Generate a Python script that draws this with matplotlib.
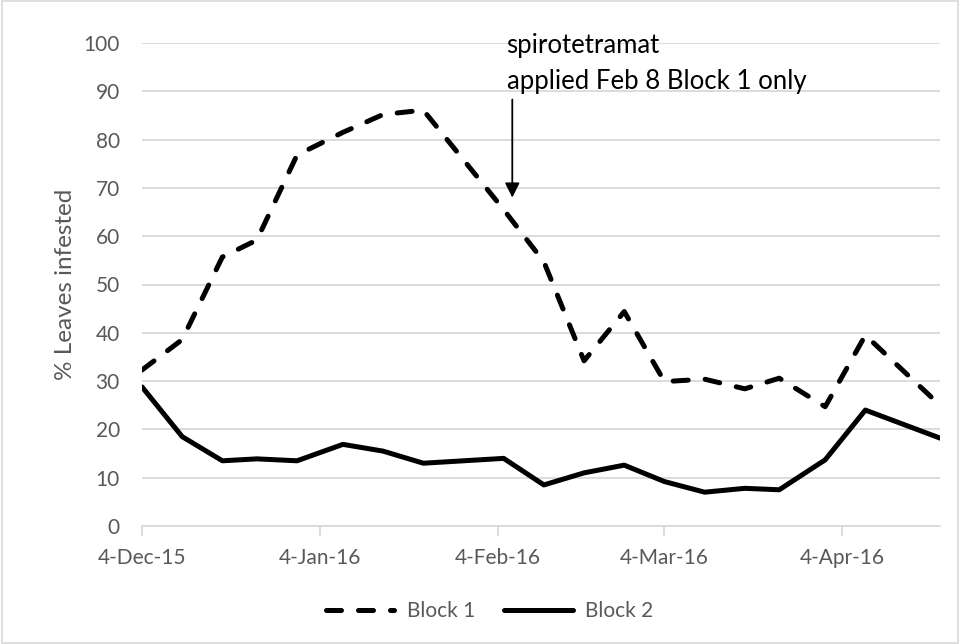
import numpy as np
import matplotlib
matplotlib.use("Agg")
import matplotlib.pyplot as plt
from matplotlib.patches import Rectangle

plt.rcParams['font.family'] = ['Lato', 'DejaVu Sans']

# sampling dates
dates = np.array(['2015-12-04', '2015-12-11', '2015-12-18', '2015-12-24', '2015-12-31',
                  '2016-01-08', '2016-01-15', '2016-01-22', '2016-02-05', '2016-02-12',
                  '2016-02-19', '2016-02-26', '2016-03-04', '2016-03-11', '2016-03-18',
                  '2016-03-24', '2016-04-01', '2016-04-08', '2016-04-21'], dtype='datetime64[D]')

# % leaves infested
block1 = [32.3, 38.6, 55.7, 59.2, 76.8, 81.5, 85.2, 86.1, 65.5, 54.7,
          34.2, 44.4, 29.9, 30.4, 28.4, 30.6, 24.7, 39.5, 25.0]
block2 = [28.8, 18.5, 13.5, 13.9, 13.5, 16.9, 15.5, 13.0, 14.0, 8.5,
          11.0, 12.6, 9.2, 7.0, 7.8, 7.5, 13.7, 24.0, 18.2]

tick_dates = np.array(['2015-12-04', '2016-01-04', '2016-02-04', '2016-03-04', '2016-04-04'],
                      dtype='datetime64[D]')
tick_labels = ['4-Dec-15', '4-Jan-16', '4-Feb-16', '4-Mar-16', '4-Apr-16']

note = 'spirotetramat\napplied Feb 8 Block 1 only'
note_date = np.datetime64('2016-02-05T12')
arrow_date = np.datetime64('2016-02-06T12')

grey = '#595959'
grid = '#d9d9d9'

fig = plt.figure(figsize=(9.6, 6.44), dpi=100)
ax = fig.add_axes([142 / 960, 1 - 526 / 644, (940 - 142) / 960, (526 - 43) / 644])

lw = 3.6
ax.plot(dates, block1, color='black', lw=lw, linestyle=(0, (3.0, 3.4)),
        dash_capstyle='round', solid_joinstyle='round', label='Block 1')
ax.plot(dates, block2, color='black', lw=lw, solid_capstyle='round',
        solid_joinstyle='round', label='Block 2')

ax.set_ylim(0, 100)
ax.set_yticks(np.arange(0, 101, 10))
ax.set_xlim(dates[0], dates[-1])
ax.set_xticks(tick_dates)
ax.set_xticklabels(tick_labels)

ax.grid(axis='y', color=grid, lw=1.3)
ax.set_axisbelow(True)
for s in ['top', 'right', 'left']:
    ax.spines[s].set_visible(False)
ax.spines['bottom'].set_color(grid)
ax.spines['bottom'].set_linewidth(1.3)
ax.tick_params(axis='y', length=0, pad=16, labelsize=15, labelcolor=grey)
ax.tick_params(axis='x', length=7, width=1.3, color=grid, pad=9, labelsize=15, labelcolor=grey)

ax.set_ylabel('% Leaves infested', fontsize=17.5, color=grey, labelpad=5)

ax.text(note_date, 102.0, note, fontsize=18.5, color='black', va='top', ha='left',
        linespacing=1.55)
ax.annotate('', xy=(arrow_date, 68.0), xytext=(arrow_date, 88.3),
            arrowprops=dict(arrowstyle='-|>', color='black', lw=1.3,
                            mutation_scale=22, shrinkA=0, shrinkB=0))

fig.legend(loc='center', bbox_to_anchor=(0.51, 1 - 611 / 644), ncol=2, frameon=False,
           fontsize=15, labelcolor=grey, handlelength=3.3, columnspacing=1.4,
           handletextpad=0.6)

fig.patches.append(Rectangle((0.002, 0.002), 0.996, 0.996, transform=fig.transFigure,
                             fill=False, edgecolor=grid, lw=1.2))

fig.savefig('out.png', dpi=100)
